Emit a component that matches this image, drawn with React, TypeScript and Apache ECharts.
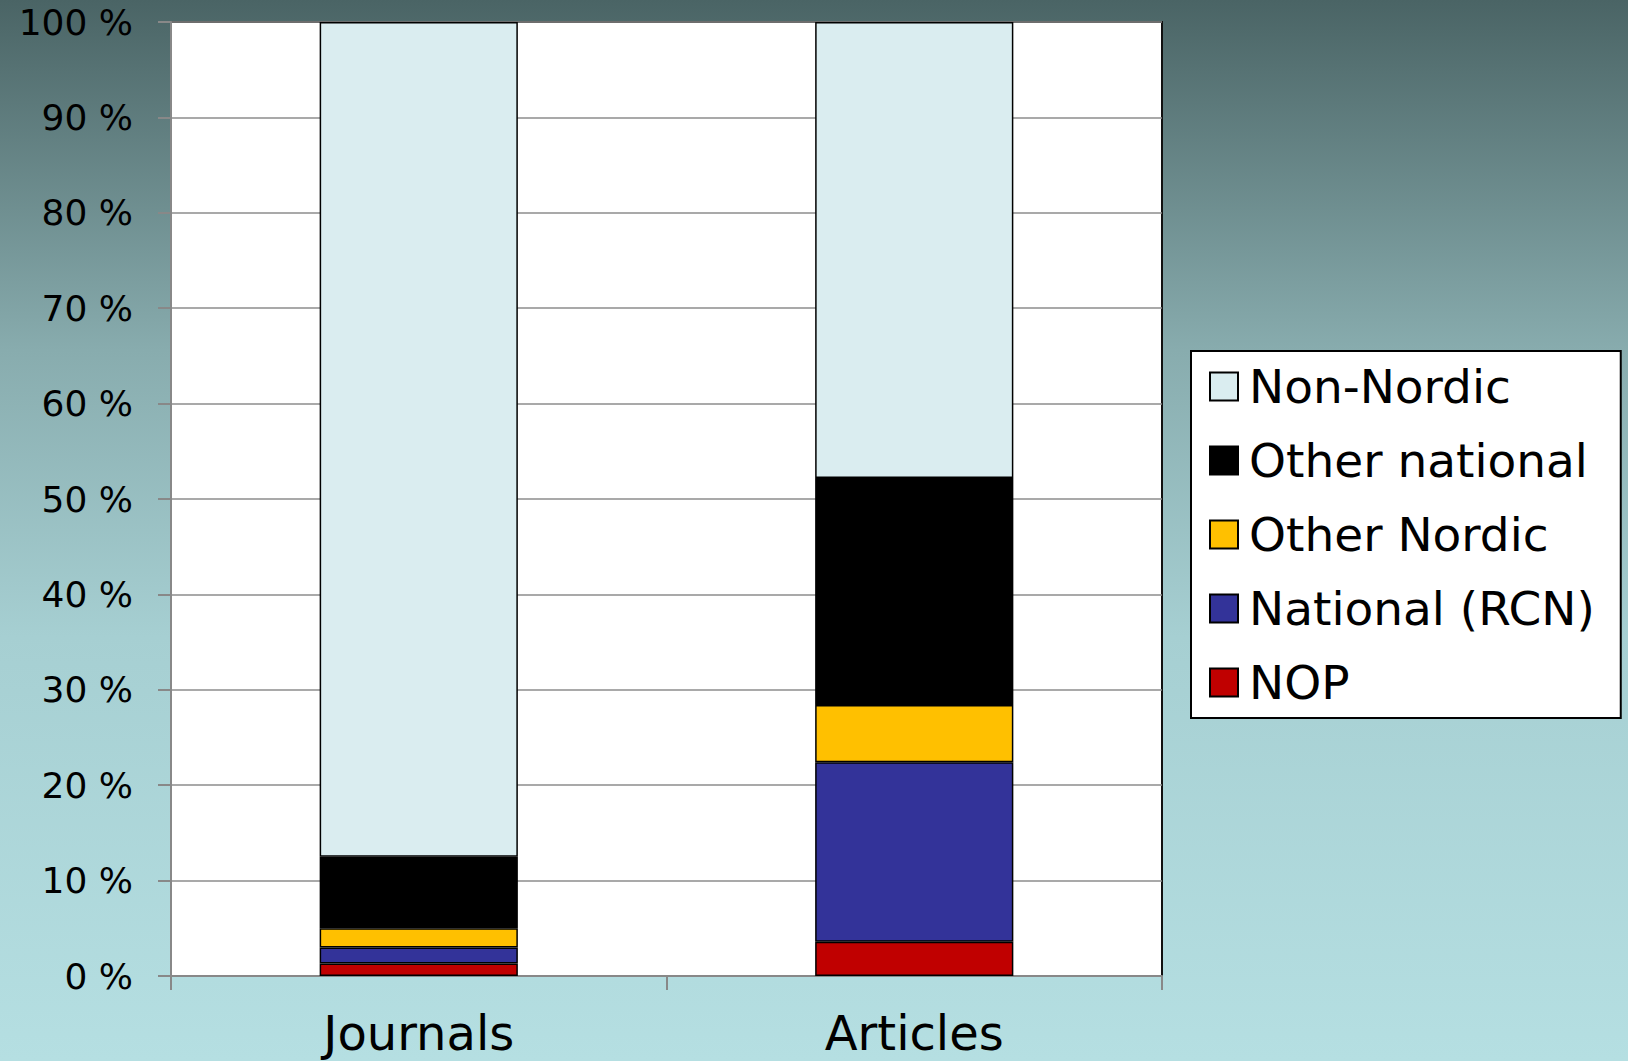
import React, { useEffect, useRef } from "react";
import * as echarts from "echarts";

const categories = ["Journals", "Articles"];
const nop = [1.3, 3.6];
const nationalRcn = [1.7, 18.8];
const otherNordic = [2.0, 6.0];
const otherNational = [7.5, 23.8];
const nonNordic = [87.5, 47.8];
const yTicks = { min: 0, max: 100, interval: 10 };

const FONT = "'DejaVu Sans', Verdana, sans-serif";

export default function App() {
  const ref = useRef<HTMLDivElement>(null);
  useEffect(() => {
    document.body.style.margin = "0";
    const chart = echarts.init(ref.current!, null, { renderer: "svg" });
    const mk = (name: string, data: number[], color: string) => ({
      name,
      type: "bar",
      stack: "total",
      data,
      barWidth: "40%",
      itemStyle: { color, borderColor: "#000", borderWidth: 1.5 },
    });
    chart.setOption({
      animation: false,
      backgroundColor: {
        type: "linear",
        x: 0,
        y: 0,
        x2: 0,
        y2: 1,
        colorStops: [
          { offset: 0, color: "#4a6465" },
          { offset: 0.33, color: "#88acae" },
          { offset: 0.6, color: "#a6cfd2" },
          { offset: 1, color: "#b5dfe2" },
        ],
      },
      textStyle: { fontFamily: FONT },
      grid: {
        left: 171,
        top: 22,
        right: 466,
        bottom: 85,
        outerBoundsMode: "none",
        containLabel: false,
        show: true,
        backgroundColor: "#ffffff",
        borderColor: "#111",
        borderWidth: 2,
      },
      legend: {
        orient: "vertical",
        left: 1191,
        top: 351,
        data: ["Non-Nordic", "Other national", "Other Nordic", "National (RCN)", "NOP"],
        backgroundColor: "#ffffff",
        borderColor: "#000",
        borderWidth: 2,
        borderRadius: 0,
        padding: [12, 26, 12, 18],
        itemWidth: 28,
        itemHeight: 28,
        itemGap: 27,
        icon: "rect",
        textStyle: { fontFamily: FONT, fontSize: 47, color: "#000", padding: [0, 0, 0, 6] },
      },
      xAxis: {
        type: "category",
        data: categories,
        axisLine: { lineStyle: { color: "#888", width: 2 } },
        axisTick: { show: true, length: 14, lineStyle: { color: "#888", width: 2 } },
        axisLabel: { color: "#000", fontFamily: FONT, fontSize: 48, margin: 33 },
      },
      yAxis: {
        type: "value",
        min: yTicks.min,
        max: yTicks.max,
        interval: yTicks.interval,
        axisLine: { show: true, lineStyle: { color: "#888", width: 2 } },
        axisTick: { show: true, length: 13, lineStyle: { color: "#888", width: 2 } },
        axisLabel: { color: "#000", fontFamily: FONT, fontSize: 36, margin: 38, formatter: "{value} %" },
        splitLine: { lineStyle: { color: "#8c8c8c", width: 1.5 } },
      },
      series: [
        mk("NOP", nop, "#c00000"),
        mk("National (RCN)", nationalRcn, "#333399"),
        mk("Other Nordic", otherNordic, "#ffc000"),
        mk("Other national", otherNational, "#000000"),
        mk("Non-Nordic", nonNordic, "#daedf0"),
      ],
    });
    return () => chart.dispose();
  }, []);
  return <div ref={ref} style={{ width: 1628, height: 1061 }} />;
}
